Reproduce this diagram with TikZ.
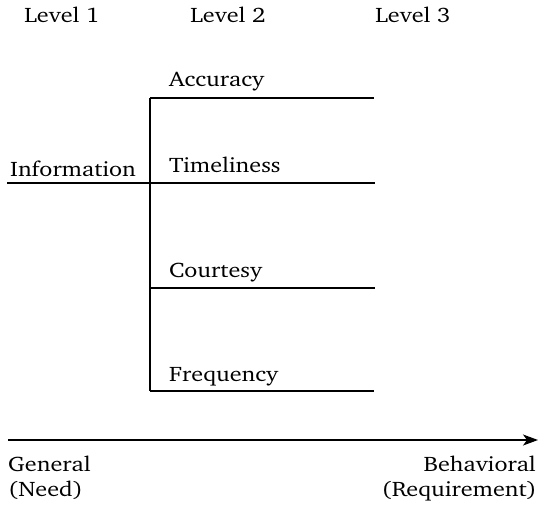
\documentclass[tikz,border=0pt]{standalone}
\usepackage[T1]{fontenc}
\usepackage{charter}
\usepackage{graphicx}
\usetikzlibrary{arrows.meta}
% Charter set a little wider than its natural width
\newcommand{\widetext}[1]{\scalebox{1.15}[1]{#1}}
\begin{document}
\begin{tikzpicture}[x=1pt,y=-1pt,
  lbl/.style={inner sep=0pt, font=\fontsize{21}{25}\selectfont},
  rule/.style={line width=1.3pt},
  axis/.style={line width=1.3pt, -{Stealth[length=15pt,width=11pt,inset=4pt]}}]
\useasboundingbox (0,0) rectangle (540,509);

% column headings
\node[lbl, anchor=base] (l1) at (62,22) {\widetext{Level 1}};
\node[lbl, anchor=base] (l2) at (228,22) {\widetext{Level 2}};
\node[lbl, anchor=base] (l3) at (413,22) {\widetext{Level 3}};

% the need and its branches
\node[lbl, anchor=base west] (info) at (10,176) {\widetext{Information}};
\node[lbl, anchor=base west] (acc) at (169,86) {\widetext{Accuracy}};
\node[lbl, anchor=base west] (time) at (169,172) {\widetext{Timeliness}};
\node[lbl, anchor=base west] (court) at (169,277) {\widetext{Courtesy}};
\node[lbl, anchor=base west] (freq) at (169,381) {\widetext{Frequency}};

\coordinate (root) at (7,183);
\coordinate (top) at (150,98);
\coordinate (bot) at (150,391);
\coordinate (accE) at (374,98);
\coordinate (timeE) at (375,183);
\coordinate (courtS) at (150,288);
\coordinate (courtE) at (375,288);
\coordinate (freqE) at (374,391);

\draw[rule] (root) -- (timeE);
\draw[rule] (top) -- (bot);
\draw[rule] (top) -- (accE);
\draw[rule] (courtS) -- (courtE);
\draw[rule] (bot) -- (freqE);

% direction of refinement
\coordinate (axS) at (8,440);
\coordinate (axE) at (538,440);
\draw[axis] (axS) -- (axE);

\node[lbl, anchor=base west] (gen) at (8,471) {\widetext{General}};
\node[lbl, anchor=base west] (need) at (8,496) {\widetext{(Need)}};
\node[lbl, anchor=base east] (beh) at (536,471) {\widetext{Behavioral}};
\node[lbl, anchor=base east] (req) at (537,496) {\widetext{(Requirement)}};
\end{tikzpicture}
\end{document}
